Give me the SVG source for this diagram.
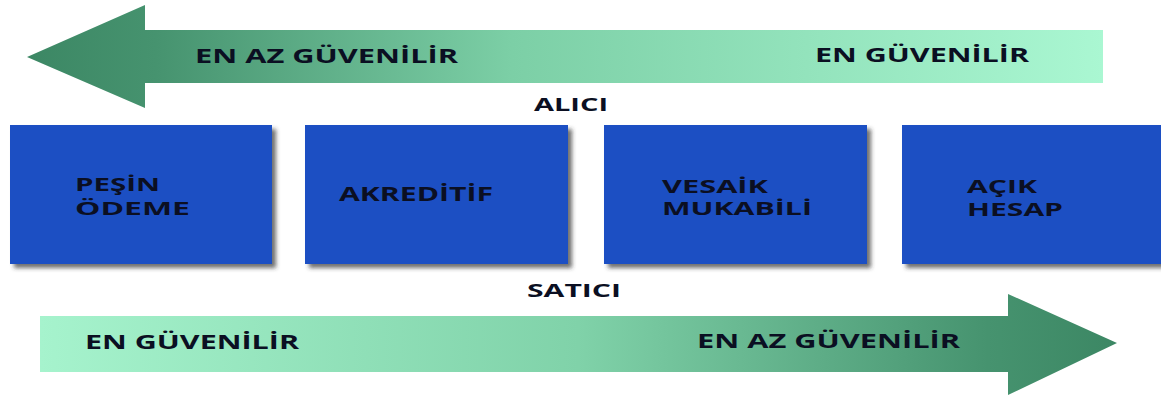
<svg xmlns="http://www.w3.org/2000/svg" width="1161" height="397" viewBox="0 0 1161 397">
  <defs>
    <linearGradient id="gTop" x1="27" y1="0" x2="1103" y2="0" gradientUnits="userSpaceOnUse">
      <stop offset="0" stop-color="#3c8764"/>
      <stop offset="0.12" stop-color="#46936f"/>
      <stop offset="0.45" stop-color="#7ccfa6"/>
      <stop offset="1" stop-color="#aaf7d2"/>
    </linearGradient>
    <linearGradient id="gBot" x1="40" y1="0" x2="1117" y2="0" gradientUnits="userSpaceOnUse">
      <stop offset="0" stop-color="#a6f3cd"/>
      <stop offset="0.5" stop-color="#80d2a9"/>
      <stop offset="0.88" stop-color="#46936f"/>
      <stop offset="1" stop-color="#3c8764"/>
    </linearGradient>
    <filter id="shadow" x="-5%" y="-5%" width="115%" height="120%">
      <feDropShadow dx="4" dy="4" stdDeviation="2" flood-color="#333" flood-opacity="0.7"/>
    </filter>
    <style>
      .lbl { font-family: "Open Sans", "Liberation Sans", sans-serif; font-weight: bold; fill: #0b0f22; }
      .box { fill: #1b4fc3; filter: url(#shadow); }
      .t19 { font-size: 19px; }
      .t18 { font-size: 18px; }
      .t17 { font-size: 17px; }
    </style>
  </defs>

  <g id="arrow-top">
    <path d="M27,57 L145,5 L145,30 L1103,30 L1103,83 L145,83 L145,108 Z" fill="url(#gTop)"/>
    <text class="lbl t19" x="195" y="63" textLength="263" lengthAdjust="spacingAndGlyphs">EN AZ GÜVENİLİR</text>
    <text class="lbl t19" x="815" y="62" textLength="214" lengthAdjust="spacingAndGlyphs">EN GÜVENİLİR</text>
  </g>

  <g id="label-alici">
    <text class="lbl t18" x="534" y="111" textLength="74" lengthAdjust="spacingAndGlyphs">ALICI</text>
  </g>

  <g id="node-pesin">
    <rect class="box" x="10" y="125" width="262" height="139"/>
    <text class="lbl t18" x="75" y="191" textLength="85" lengthAdjust="spacingAndGlyphs">PEŞİN</text>
    <text class="lbl t18" x="75" y="215" textLength="115" lengthAdjust="spacingAndGlyphs">ÖDEME</text>
  </g>

  <g id="node-akreditif">
    <rect class="box" x="305" y="125" width="263" height="139"/>
    <text class="lbl t19" x="339" y="201" textLength="154" lengthAdjust="spacingAndGlyphs">AKREDİTİF</text>
  </g>

  <g id="node-vesaik">
    <rect class="box" x="604" y="125" width="263" height="139"/>
    <text class="lbl t17" x="662" y="193" textLength="106" lengthAdjust="spacingAndGlyphs">VESAİK</text>
    <text class="lbl t17" x="662" y="215" textLength="150" lengthAdjust="spacingAndGlyphs">MUKABİLİ</text>
  </g>

  <g id="node-acik">
    <rect class="box" x="902" y="125" width="262" height="139"/>
    <text class="lbl t17" x="967" y="193" textLength="70" lengthAdjust="spacingAndGlyphs">AÇIK</text>
    <text class="lbl t17" x="967" y="216" textLength="96" lengthAdjust="spacingAndGlyphs">HESAP</text>
  </g>

  <g id="label-satici">
    <text class="lbl t18" x="527" y="297" textLength="94" lengthAdjust="spacingAndGlyphs">SATICI</text>
  </g>

  <g id="arrow-bottom">
    <path d="M40,316 L1008,316 L1008,294 L1117,343 L1008,395 L1008,372 L40,372 Z" fill="url(#gBot)"/>
    <text class="lbl t19" x="85" y="349" textLength="214" lengthAdjust="spacingAndGlyphs">EN GÜVENİLİR</text>
    <text class="lbl t19" x="697" y="348" textLength="263" lengthAdjust="spacingAndGlyphs">EN AZ GÜVENİLİR</text>
  </g>
</svg>
